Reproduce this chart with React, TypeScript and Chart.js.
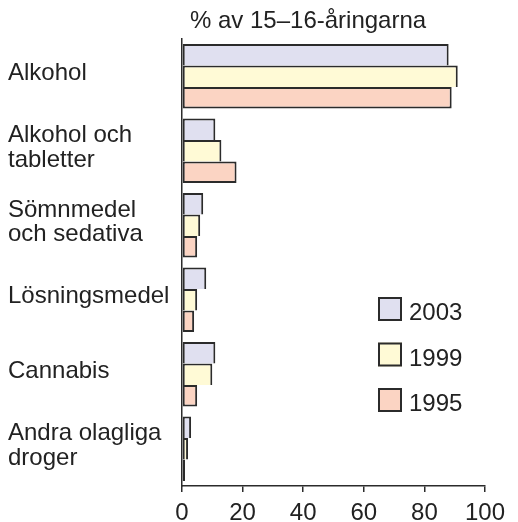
import React, { useEffect, useRef } from "react";
import { Chart, registerables } from "chart.js";

Chart.register(...registerables);

const categories: string[][] = [
  ["Alkohol"],
  ["Alkohol och", "tabletter"],
  ["Sömnmedel", "och sedativa"],
  ["Lösningsmedel"],
  ["Cannabis"],
  ["Andra olagliga", "droger"],
];
const seriesLabels = ["2003", "1999", "1995"];
const values2003 = [88, 11, 7, 8, 11, 3];
const values1999 = [91, 13, 6, 5, 10, 2];
const values1995 = [89, 18, 5, 4, 5, 1];
const xTickValues = [0, 20, 40, 60, 80, 100];
const titleText = "% av 15–16-åringarna";

const FONT = '"Liberation Sans", Arial, Helvetica, sans-serif';
const FONT_SIZE = 24;
const TEXT = "#222222";
const LINE = "#2b2b2b";
const colors = ["#e0e0f0", "#fffad6", "#fbd4c3"];

const titlePlugin = {
  id: "customTitle",
  afterDraw(chart: any) {
    const { ctx, chartArea } = chart;
    ctx.save();
    ctx.fillStyle = TEXT;
    ctx.font = `${FONT_SIZE}px ${FONT}`;
    ctx.textAlign = "left";
    ctx.textBaseline = "alphabetic";
    ctx.fillText(titleText, chartArea.left + 8, 28);
    ctx.restore();
  },
};

const legendPlugin = {
  id: "customLegend",
  afterDraw(chart: any) {
    const { ctx, chartArea } = chart;
    const x0 = chartArea.left + 196;
    const y0 = chartArea.top + 258;
    chart.data.datasets.forEach((ds: any, i: number) => {
      const y = y0 + i * 45.5;
      ctx.save();
      ctx.fillStyle = ds.backgroundColor;
      ctx.fillRect(x0, y, 24, 24);
      ctx.strokeStyle = LINE;
      ctx.lineWidth = 2;
      ctx.strokeRect(x0 + 1, y + 1, 22, 22);
      ctx.fillStyle = TEXT;
      ctx.font = `${FONT_SIZE}px ${FONT}`;
      ctx.textAlign = "left";
      ctx.textBaseline = "alphabetic";
      ctx.fillText(ds.label, x0 + 31, y + 23);
      ctx.restore();
    });
  },
};

export default function App() {
  const canvasRef = useRef<HTMLCanvasElement | null>(null);

  useEffect(() => {
    document.body.style.margin = "0";
    document.body.style.overflow = "hidden";
    const canvas = canvasRef.current;
    if (!canvas) return;
    const seriesValues = [values2003, values1999, values1995];
    const chart = new Chart(canvas, {
      type: "bar",
      data: {
        labels: categories as any,
        datasets: seriesLabels.map((label, i) => ({
          label,
          data: seriesValues[i],
          backgroundColor: colors[i],
          borderColor: LINE,
          borderWidth:
            i < 2
              ? { top: 2, right: 2, bottom: 0, left: 2 }
              : { top: 2, right: 2, bottom: 2, left: 2 },
          borderSkipped: false,
          barPercentage: 1,
          categoryPercentage: 0.864,
        })),
      },
      options: {
        indexAxis: "y",
        animation: false,
        responsive: true,
        maintainAspectRatio: false,
        layout: { padding: { left: 8, top: 39, right: 33, bottom: 0 } },
        plugins: {
          legend: { display: false },
          title: { display: false },
          tooltip: { enabled: false },
        },
        scales: {
          x: {
            type: "linear",
            position: "bottom",
            min: 0,
            max: 100,
            afterBuildTicks(scale: any) {
              scale.ticks = xTickValues.map((v) => ({ value: v }));
            },
            afterFit(scale: any) {
              scale.height = 36;
            },
            grid: {
              display: true,
              drawOnChartArea: false,
              drawTicks: true,
              tickLength: 6,
              color: LINE,
              lineWidth: 1.5,
            },
            border: { display: true, color: LINE, width: 1.5 },
            ticks: {
              padding: 7,
              color: TEXT,
              font: { family: FONT, size: FONT_SIZE },
              maxRotation: 0,
            },
          },
          y: {
            type: "category",
            offset: true,
            afterFit(scale: any) {
              scale.width = 174;
            },
            grid: { display: false },
            border: { display: true, color: LINE, width: 1.5 },
            ticks: {
              crossAlign: "far",
              labelOffset: -3,
              padding: 0,
              color: TEXT,
              font: { family: FONT, size: FONT_SIZE, lineHeight: 1.03 },
              autoSkip: false,
            },
          },
        },
      },
      plugins: [titlePlugin, legendPlugin],
    } as any);
    return () => chart.destroy();
  }, []);

  return (
    <div style={{ position: "relative", width: 518, height: 522 }}>
      <canvas ref={canvasRef} />
    </div>
  );
}
